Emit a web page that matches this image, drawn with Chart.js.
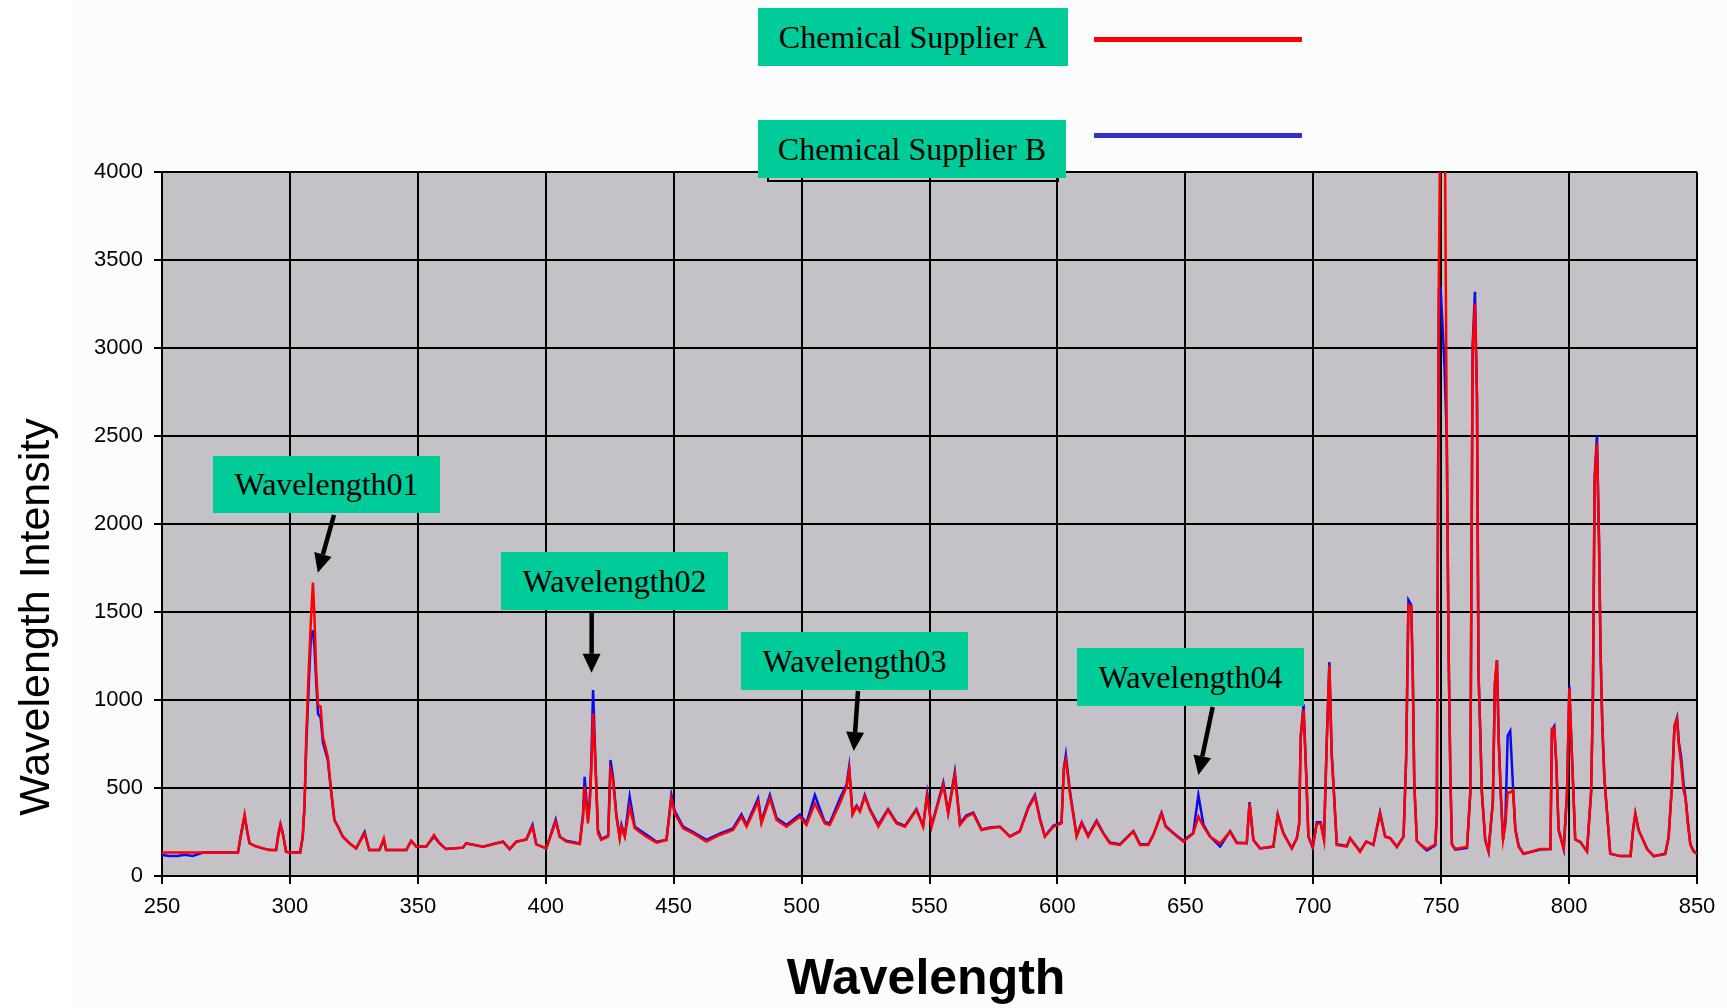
<!DOCTYPE html>
<html>
<head>
<meta charset="utf-8">
<script src="https://cdn.jsdelivr.net/npm/chart.js@4.4.1/dist/chart.umd.min.js"></script>
<style>
html,body{margin:0;padding:0;background:#fff;}
#wrap{position:relative;width:1727px;height:1008px;overflow:hidden;background:#fff;}
#bgpanel{position:absolute;left:72px;top:0;right:0;bottom:0;background:#fcfcfc;}
#chart{position:absolute;left:0;top:0;}
.box{position:absolute;background:#00cc99;display:flex;align-items:center;justify-content:center;
  font-family:'Liberation Serif','Times New Roman',serif;font-size:32px;color:#000;white-space:nowrap;}
.frame{position:absolute;border:2px solid #000;}
.lg-line{position:absolute;height:5px;}
#ytitle{position:absolute;left:-266px;top:592px;width:600px;height:50px;line-height:50px;text-align:center;
  transform:rotate(-90deg);font-family:'Liberation Sans',Arial,sans-serif;font-size:43px;color:#000;white-space:nowrap;}
#xtitle{position:absolute;left:626px;top:952px;width:600px;height:50px;line-height:50px;text-align:center;
  font-family:'Liberation Sans',Arial,sans-serif;font-weight:bold;font-size:50px;color:#000;white-space:nowrap;}
</style>
</head>
<body>
<div id="wrap">
  <div id="bgpanel"></div>
  <canvas id="chart" width="1727" height="1008"></canvas>
  <div id="overlay"></div>
  <div id="ytitle">Wavelength Intensity</div>
  <div id="xtitle">Wavelength</div>
</div>
<script>
// ---------------- DATA ----------------
const WAVELENGTHS = [
250,253,256,259,262,266,270,275,279.7,280.8,282.3,283.2,284.2,286.5,289.4,292,294.6,295.5,296.3,297.2,298.5,300,304,
305,305.7,306.4,307.4,308.3,309,309.6,310.3,311,312,312.9,314.8,316.1,317.4,318.8,320.7,323.3,325.9,329.2,331,335,336.7,337.6,
345.5,347.4,349.4,353.3,356.3,358.5,361,367.6,368.9,375.5,380.7,383.3,385.9,388.5,392.4,394.8,396.3,400.2,403.9,405.5,408,413.3,
414.6,415.2,416.5,417.2,417.8,418.5,419.4,420.4,421.7,424.4,425.3,426.3,427.6,428.9,429.6,430.9,432.8,434.8,439.3,443.3,447.2,
449.1,450.4,453.7,457.6,462.8,468,473.2,476.5,478.5,483,484.3,487.6,490.2,494.1,499.3,501.9,505.2,509.1,511,515,517.6,518.6,
519.9,521.5,522.8,524.7,526.7,530,533.8,537.1,540.4,544.9,547.5,549.1,550.8,555.4,557.3,559.9,561.9,564.5,567.1,570.3,573.6,
577.5,581.4,585.3,588.6,591.2,593.2,595.1,598.4,601.6,602.5,603.3,604.9,607.5,609.5,612,615.3,617.9,620.5,624.4,629.7,632.3,
635.5,637.5,640.7,642.3,645.3,649.2,653.1,655.1,657.1,659.7,663.6,667.5,670.1,674,675.1,676.6,679.2,684.4,686.1,688.3,691.6,
693.6,694.5,695.1,696.2,697.2,698.1,699.8,701.4,702.9,704.2,705.3,706.3,707.2,708.2,709.2,713.1,714.4,718.3,720.7,723.5,726.1,
728.1,730.1,732.7,735.3,736.3,737.2,738.3,738.9,739.5,740.5,741.8,744.4,747.7,748.3,749.1,749.8,751.3,752.2,752.9,753.6,754.2,
755.5,760.1,761.4,762.3,763.2,764,764.6,765.3,765.9,767.2,768.5,770.2,771,771.8,772.5,773.4,774.2,775.1,776,777,778.1,779,
780.3,782.2,788.8,792.7,793.3,794.2,795,795.9,797.9,799.2,800.1,801.1,802.4,804.4,807,808.6,809.3,810,810.9,811.7,812.3,813,
813.8,814.8,816.1,820,824,825,825.9,827.2,830.5,833.1,837.6,838.9,840.2,841.2,842.2,842.9,843.8,844.8,845.5,846.4,847.4,848.7,850
];
const SUPPLIER_A = [
133,133,133,133,133,133,133,133,133,230,350,262,186,170,157,148,148,230,290,240,138,133,133,
223,394,792,1189,1483,1667,1473,1151,971,962,792,678,489,318,280,223,186,157,242,148,148,214,148,
148,199,167,167,233,186,153,161,186,167,186,195,153,195,208,280,180,157,309,223,195,182,
337,508,299,413,602,924,640,242,205,223,602,545,337,214,280,223,394,271,223,190,205,
441,356,271,242,195,233,261,337,280,422,299,441,318,280,337,290,413,299,290,413,508,602,
347,394,366,451,375,280,375,299,280,375,280,460,280,517,356,574,290,337,356,261,271,
280,223,252,384,451,318,223,280,299,602,659,470,223,299,223,309,242,186,176,252,176,
176,233,356,280,242,195,242,337,280,223,186,252,186,186,413,205,157,167,347,242,157,
214,290,792,945,593,223,167,299,299,205,763,1199,688,441,176,167,214,138,195,176,356,
223,214,167,223,659,1540,1530,1142,527,200,180,153,180,341,3400,4600,4600,2450,1280,569,180,
153,166,475,2985,3253,2703,1146,811,475,207,140,421,1092,1227,770,435,207,290,475,475,488,260,
166,126,153,153,837,840,636,260,153,475,1065,690,207,193,140,475,998,2250,2461,1897,1280,851,
556,368,126,113,113,260,354,260,153,113,126,220,515,851,891,743,640,480,448,300,180,140,126
];
const SUPPLIER_B = [
119,114,114,120,114,133,133,133,133,230,340,262,186,170,157,148,148,240,295,245,138,133,133,
223,394,750,1100,1388,1390,1300,1100,920,900,760,660,480,318,280,223,186,157,250,148,148,205,148,
148,199,167,167,225,186,153,161,186,167,186,195,153,195,208,290,180,157,320,223,200,185,
360,564,320,430,640,1057,660,260,210,230,659,560,350,220,290,230,451,280,235,195,205,
460,370,280,250,205,240,270,350,290,441,310,460,330,290,350,300,460,305,300,440,520,621,
360,400,370,460,380,290,380,305,285,380,285,470,285,530,360,590,300,345,360,265,275,
280,225,255,390,460,325,225,285,305,610,688,480,230,305,230,315,245,190,180,255,180,
180,235,360,285,245,200,245,460,290,225,167,255,190,186,420,205,157,167,350,245,157,
215,300,792,975,600,225,160,305,305,210,780,1215,700,445,180,170,215,140,195,178,360,
225,215,165,225,663,1568,1540,1146,515,200,180,145,175,341,3333,3340,2900,2488,1290,570,180,
150,160,475,3011,3320,2720,1150,815,480,207,140,421,1092,1227,770,435,207,314,797,824,500,265,
170,126,150,153,830,851,640,265,153,475,1079,690,207,193,140,475,998,2273,2501,1900,1280,851,
556,368,126,113,113,260,354,260,153,113,126,220,515,851,900,760,676,515,448,314,180,140,126
];
const SERIES_NAMES = ['Chemical Supplier A', 'Chemical Supplier B'];
const X_TICKS = [250,300,350,400,450,500,550,600,650,700,750,800,850];
const Y_TICKS = [0,500,1000,1500,2000,2500,3000,3500,4000];
const ANNOTATION_LABELS = ['Wavelength01','Wavelength02','Wavelength03','Wavelength04'];
const ANNOTATION_TIP_WL = [310.9, 417.9, 520.4, 655.1];
const ANNOTATION_TIP_VALUE = [1723, 1155, 710, 574];

// ---------------- LAYOUT (styles only) ----------------
const ANNOTATION_BOXES = [
  {left:213, top:456, w:227, h:57, tail:[334,515]},
  {left:501, top:552, w:227, h:58, tail:[591.7,612]},
  {left:741, top:632, w:227, h:58, tail:[858,691]},
  {left:1077, top:648, w:227, h:58, tail:[1212.7,707]}
];
const LEGEND_LAYOUT = [
  {left:758, top:8, w:310, h:58, lineTop:37, color:'#ff0000'},
  {left:758, top:120, w:308, h:58, lineTop:133, color:'#3333cc'}
];

const overlay = document.getElementById('overlay');
const fr = document.createElement('div');
fr.className = 'frame';
Object.assign(fr.style, {left:'767px', top:'128px', width:'288px', height:'50px'});
overlay.appendChild(fr);
SERIES_NAMES.forEach((name, i) => {
  const L = LEGEND_LAYOUT[i];
  const b = document.createElement('div');
  b.className = 'box';
  Object.assign(b.style, {left:L.left+'px', top:L.top+'px', width:L.w+'px', height:L.h+'px'});
  b.textContent = name;
  overlay.appendChild(b);
  const ln = document.createElement('div');
  ln.className = 'lg-line';
  Object.assign(ln.style, {left:'1094px', top:L.lineTop+'px', width:'208px', background:L.color});
  overlay.appendChild(ln);
});
ANNOTATION_LABELS.forEach((t, i) => {
  const B = ANNOTATION_BOXES[i];
  const b = document.createElement('div');
  b.className = 'box';
  Object.assign(b.style, {left:B.left+'px', top:B.top+'px', width:B.w+'px', height:B.h+'px'});
  b.textContent = t;
  overlay.appendChild(b);
});

const plotBg = {
  id: 'plotBg',
  beforeDraw(chart) {
    const {ctx, chartArea: a} = chart;
    ctx.save();
    ctx.fillStyle = '#c4c2c6';
    ctx.fillRect(a.left, a.top, a.right - a.left, a.bottom - a.top);
    ctx.restore();
  }
};
const arrows = {
  id: 'arrows',
  afterDraw(chart) {
    const {ctx} = chart;
    const xs = chart.scales.x, ys = chart.scales.y;
    ctx.save();
    ctx.strokeStyle = '#000';
    ctx.fillStyle = '#000';
    ANNOTATION_LABELS.forEach((t, i) => {
      const [x0, y0] = ANNOTATION_BOXES[i].tail;
      const x1 = xs.getPixelForValue(ANNOTATION_TIP_WL[i]);
      const y1 = ys.getPixelForValue(ANNOTATION_TIP_VALUE[i]);
      const ang = Math.atan2(y1 - y0, x1 - x0);
      const hl = 19, hw = 9;
      const bx = x1 - hl * Math.cos(ang), by = y1 - hl * Math.sin(ang);
      ctx.lineWidth = 4.5;
      ctx.beginPath(); ctx.moveTo(x0, y0); ctx.lineTo(bx, by); ctx.stroke();
      ctx.beginPath();
      ctx.moveTo(x1, y1);
      ctx.lineTo(bx + hw * Math.sin(ang), by - hw * Math.cos(ang));
      ctx.lineTo(bx - hw * Math.sin(ang), by + hw * Math.cos(ang));
      ctx.closePath(); ctx.fill();
    });
    ctx.restore();
  }
};

const tickFont = {family: "'Liberation Sans', Arial, sans-serif", size: 22};
new Chart(document.getElementById('chart'), {
  type: 'line',
  data: {
    datasets: [
      {label: SERIES_NAMES[0], data: WAVELENGTHS.map((w, i) => ({x: w, y: SUPPLIER_A[i]})),
       borderColor: '#ff0000', borderWidth: 2.5, pointRadius: 0, tension: 0, fill: false},
      {label: SERIES_NAMES[1], data: WAVELENGTHS.map((w, i) => ({x: w, y: SUPPLIER_B[i]})),
       borderColor: '#0a0af0', borderWidth: 2.5, pointRadius: 0, tension: 0, fill: false}
    ]
  },
  options: {
    responsive: false,
    animation: false,
    devicePixelRatio: 1,
    layout: {padding: {top: 172, right: 30, bottom: 0, left: 0}},
    plugins: {legend: {display: false}, tooltip: {enabled: false}, title: {display: false}},
    scales: {
      x: {
        type: 'linear', min: 250, max: 850,
        afterBuildTicks: s => { s.ticks = X_TICKS.map(v => ({value: v})); },
        afterFit: s => { s.height = 132; },
        ticks: {color: '#000', font: tickFont, padding: 10, maxRotation: 0, autoSkip: false,
                callback: v => String(v)},
        grid: {color: '#000', lineWidth: 2, tickLength: 8, drawTicks: true},
        border: {display: true, color: '#000', width: 2}
      },
      y: {
        type: 'linear', min: 0, max: 4000,
        afterBuildTicks: s => { s.ticks = Y_TICKS.map(v => ({value: v})); },
        afterFit: s => { s.width = 162; },
        ticks: {color: '#000', font: tickFont, padding: 11, autoSkip: false,
                callback: v => String(v)},
        grid: {color: '#000', lineWidth: 2, tickLength: 8, drawTicks: true},
        border: {display: true, color: '#000', width: 2}
      }
    }
  },
  plugins: [plotBg, arrows]
});
</script>
</body>
</html>
